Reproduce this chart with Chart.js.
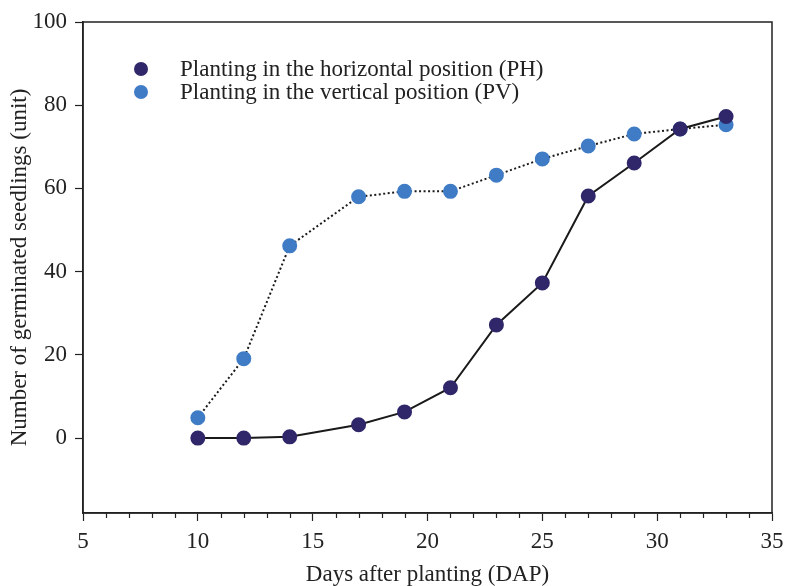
<!DOCTYPE html>
<html>
<head>
<meta charset="utf-8">
<script src="https://cdn.jsdelivr.net/npm/chart.js@4/dist/chart.umd.min.js"></script>
<style>
html,body{margin:0;padding:0;background:#fff;}
#wrap{width:786px;height:586px;}
</style>
</head>
<body>
<div id="wrap"><canvas id="c" width="786" height="586"></canvas></div>
<script>
const days = [10, 12, 14, 17, 19, 21, 23, 25, 27, 29, 31, 33];
const phValues = [0, 0, 0.3, 3.2, 6.3, 12.1, 27.2, 37.3, 58.2, 66.1, 74.3, 77.3];
const pvValues = [4.9, 19.1, 46.2, 58.0, 59.3, 59.3, 63.2, 67.1, 70.2, 73.1, 74.3, 75.3];
const seriesLabels = ['Planting in the horizontal position (PH)', 'Planting in the vertical position (PV)'];
const xMajorTicks = [5, 10, 15, 20, 25, 30, 35];
const yMajorTicks = [0, 20, 40, 60, 80, 100];

const FONT = "'Liberation Serif', 'DejaVu Serif', serif";
const INK = '#222';

const frameAndMinor = {
  id: 'frameAndMinor',
  afterDraw(chart) {
    const ctx = chart.ctx, a = chart.chartArea, xs = chart.scales.x;
    ctx.save();
    ctx.strokeStyle = INK;
    ctx.lineWidth = 1.5;
    ctx.strokeRect(a.left, a.top, a.right - a.left, a.bottom - a.top);
    ctx.lineWidth = 1.2;
    for (let v = xs.min; v <= xs.max; v++) {
      if (v % 5 === 0) continue;
      const px = Math.round(xs.getPixelForValue(v)) + 0.5;
      ctx.beginPath();
      ctx.moveTo(px, a.bottom);
      ctx.lineTo(px, a.bottom + 5);
      ctx.stroke();
    }
    // legend
    ctx.font = '23px ' + FONT;
    ctx.textBaseline = 'middle';
    chart.data.datasets.forEach((ds, i) => {
      const y = 69 + i * 23;
      ctx.beginPath();
      ctx.arc(141, y, 7, 0, Math.PI * 2);
      ctx.fillStyle = ds.pointBackgroundColor;
      ctx.fill();
      ctx.fillStyle = INK;
      ctx.fillText(ds.label, 180, y + 1);
    });
    ctx.restore();
  }
};

new Chart(document.getElementById('c'), {
  type: 'line',
  data: {
    datasets: [
      {
        label: seriesLabels[0],
        data: days.map((d, i) => ({x: d, y: phValues[i]})),
        borderColor: '#1a1a1a',
        borderWidth: 2,
        pointBackgroundColor: '#2f2769',
        pointBorderColor: '#2f2769',
        pointRadius: 6.5,
        pointHoverRadius: 6.5,
        tension: 0
      },
      {
        label: seriesLabels[1],
        data: days.map((d, i) => ({x: d, y: pvValues[i]})),
        borderColor: '#1a1a1a',
        borderWidth: 2,
        borderDash: [2, 2.5],
        pointBackgroundColor: '#3f7cc5',
        pointBorderColor: '#3f7cc5',
        pointRadius: 6.5,
        pointHoverRadius: 6.5,
        tension: 0
      }
    ]
  },
  options: {
    responsive: false,
    animation: false,
    devicePixelRatio: 1,
    layout: {padding: {left: 0, right: 14, top: 22, bottom: 0}},
    plugins: {legend: {display: false}, tooltip: {enabled: false}},
    scales: {
      x: {
        type: 'linear',
        min: 5, max: 35,
        afterBuildTicks: s => { s.ticks = xMajorTicks.map(v => ({value: v})); },
        afterFit: s => { s.height = 73; s.paddingLeft = 0; s.paddingRight = 0; },
        border: {display: true, color: INK, width: 1.5},
        grid: {display: true, drawOnChartArea: false, drawTicks: true, tickLength: 8, tickColor: INK, tickWidth: 1.2},
        ticks: {color: INK, font: {family: FONT, size: 23}, padding: 7, maxRotation: 0},
        title: {display: true, text: 'Days after planting (DAP)', color: INK, font: {family: FONT, size: 23}, padding: {top: 0, bottom: -3}}
      },
      y: {
        type: 'linear',
        min: -18, max: 100,
        afterBuildTicks: s => { s.ticks = yMajorTicks.map(v => ({value: v})); },
        afterFit: s => { s.width = 83; s.paddingTop = 0; s.paddingBottom = 0; },
        border: {display: true, color: INK, width: 1.5},
        grid: {display: true, drawOnChartArea: false, drawTicks: true, tickLength: 8, tickColor: INK, tickWidth: 1.2},
        ticks: {color: INK, font: {family: FONT, size: 23}, padding: 8},
        title: {display: true, text: 'Number of germinated seedlings (unit)', color: INK, font: {family: FONT, size: 23}, padding: {top: 6, bottom: 0}}
      }
    }
  },
  plugins: [frameAndMinor]
});
</script>
</body>
</html>
